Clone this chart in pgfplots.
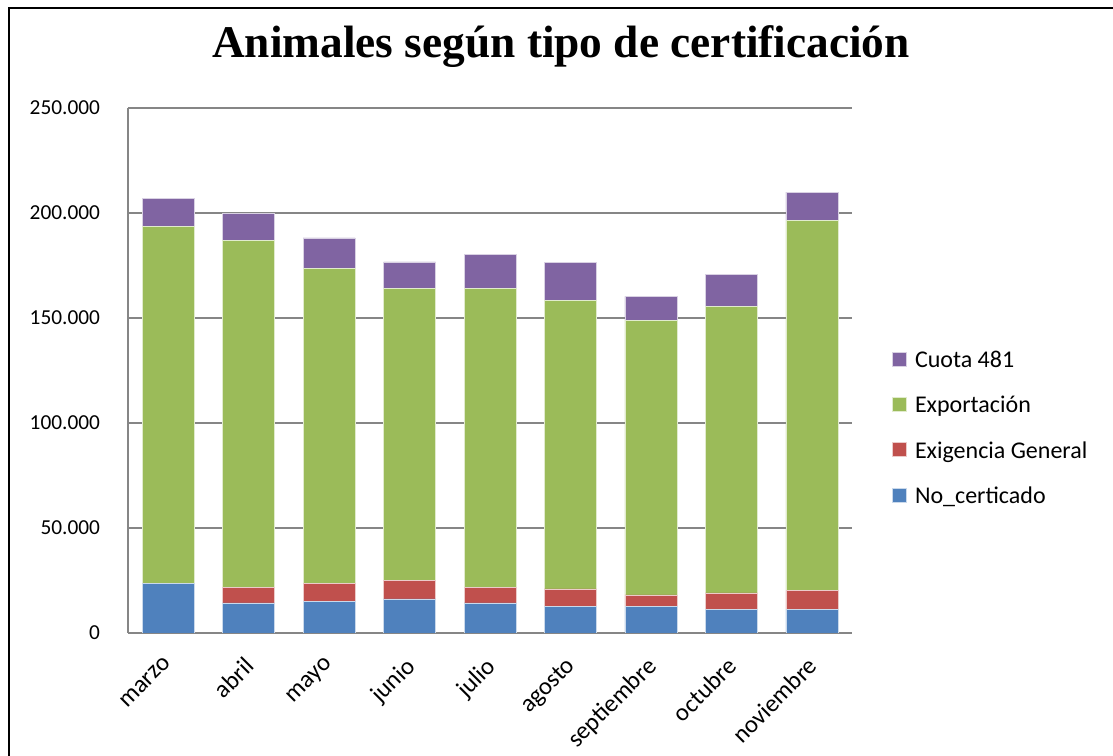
\documentclass[border=0pt]{standalone}
\usepackage{pgfplots}
\pgfplotsset{compat=1.18}
\usepackage{pgfplotstable}
\usepackage{fontspec}
\setmainfont{Carlito}
\newfontfamily\titlefont{Liberation Serif}
\definecolor{cblue}{HTML}{4F81BD}
\definecolor{cred}{HTML}{C0504D}
\definecolor{cgreen}{HTML}{9BBB59}
\definecolor{cpurple}{HTML}{8064A2}
\definecolor{cgrid}{HTML}{868686}
\pgfplotstableread{
x nocert exig export cuota
0 23800 0    169900 13300
1 14300 7600 165100 12800
2 15200 8600 149900 14400
3 16200 8700 139200 12600
4 14300 7600 142200 16200
5 12600 8400 137400 18100
6 12600 5500 130900 11300
7 11400 7700 136500 15200
8 11400 8800 176300 13400
}\datatable
\begin{document}
\begin{tikzpicture}
\path[use as bounding box] (0,0) rectangle (834.75pt,567pt);
\draw[line width=1.5pt] (6.5pt,0) -- (6.5pt,561pt) -- (834.75pt,561pt);
\node[anchor=base, font=\titlefont\bfseries\fontsize{34}{38}\selectfont] at (420.75pt,524pt) {Animales según tipo de certificación};
\begin{axis}[
  at={(96pt,92.25pt)}, anchor=south west,
  scale only axis, width=543pt, height=393.75pt,
  ybar stacked, bar width=39pt,
  xmin=-0.5, xmax=8.5, ymin=0, ymax=250000,
  ytick={0,50000,...,250000},
  scaled y ticks=false,
  /pgf/number format/.cd, fixed, 1000 sep={.}, assume math mode=true,
  /pgfplots/.cd,
  xtick={0,...,8},
  xticklabels={marzo,abril,mayo,junio,julio,agosto,septiembre,octubre,noviembre},
  x tick label style={xshift=-4pt, yshift=-14pt, rotate=45, anchor=north east, font=\fontsize{18.5}{21}\selectfont, inner sep=2pt},
  y tick label style={font=\fontsize{16}{19}\selectfont, xshift=-17.5pt},
  ymajorgrids, major grid style={cgrid, line width=0.9pt},
  axis x line*=bottom, axis y line*=left,
  axis line style={cgrid, line width=0.9pt},
  major tick length=0pt,
  tick style={draw=none},
  legend style={draw=none, at={(1.05,0.39)}, anchor=west, font=\fontsize{18}{21}\selectfont, row sep=16pt, cells={anchor=west}},
  reverse legend,
  legend image code/.code={\fill[#1] (0pt,-4.5pt) rectangle (10.5pt,6pt);},
  legend cell align=left,
]
\addplot[fill=cblue, draw=white!70!cblue] table[x=x,y=nocert]{\datatable};
\addplot[fill=cred, draw=white!70!cred] table[x=x,y=exig]{\datatable};
\addplot[fill=cgreen, draw=white!70!cgreen] table[x=x,y=export]{\datatable};
\addplot[fill=cpurple, draw=white!70!cpurple] table[x=x,y=cuota]{\datatable};
\legend{{\hspace{4pt}No\_certicado}, {\hspace{4pt}Exigencia General}, {\hspace{4pt}Exportación}, {\hspace{4pt}Cuota 481}}
\end{axis}
\end{tikzpicture}
\end{document}
